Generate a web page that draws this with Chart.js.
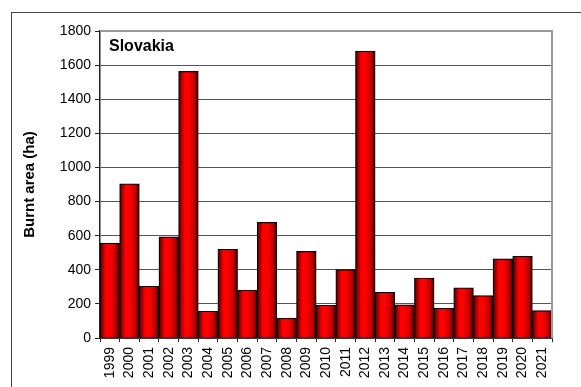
<!DOCTYPE html>
<html>
<head>
<meta charset="utf-8">
<script src="https://cdn.jsdelivr.net/npm/chart.js@4.4.0/dist/chart.umd.min.js"></script>
<style>
  html, body { margin: 0; padding: 0; background: #fff; }
  #wrap { position: relative; width: 581px; height: 387px; }
  #frame { position: absolute; left: 11px; top: 12px; right: -5px; bottom: -5px;
           border-top: 1px solid #444; border-left: 1px solid #444; }
  canvas { position: absolute; left: 0; top: 0; }
</style>
</head>
<body>
<div id="wrap">
  <div id="frame"></div>
  <canvas id="burntChart" width="581" height="387"></canvas>
</div>
<script>
  // data
  const years = ['1999', '2000', '2001', '2002', '2003', '2004', '2005', '2006',
    '2007', '2008', '2009', '2010', '2011', '2012', '2013', '2014', '2015',
    '2016', '2017', '2018', '2019', '2020', '2021'];
  const burntArea = [556, 904, 303, 593, 1563, 157, 520, 280, 678, 116, 508,
    192, 401, 1682, 268, 194, 352, 174, 294, 249, 464, 479, 161];
  const yTicks = [0, 200, 400, 600, 800, 1000, 1200, 1400, 1600, 1800];

  const FONT = '"Liberation Sans", Arial, sans-serif';

  function barGradient(context) {
    const chart = context.chart;
    if (!chart.chartArea) return '#e00000';
    const xScale = chart.scales.x;
    const cx = xScale.getPixelForValue(context.dataIndex);
    const half = xScale.width / years.length / 2;
    const g = chart.ctx.createLinearGradient(cx - half, 0, cx + half, 0);
    g.addColorStop(0, '#500000');
    g.addColorStop(0.3, '#ff0000');
    g.addColorStop(0.5, '#ff0000');
    g.addColorStop(0.8, '#c00000');
    g.addColorStop(1, '#480000');
    return g;
  }

  // plot frame + country label inside the plot
  const framePlugin = {
    id: 'framePlugin',
    afterDraw(chart) {
      const ctx = chart.ctx;
      const a = chart.chartArea;
      ctx.save();
      ctx.strokeStyle = '#999';
      ctx.lineWidth = 2;
      ctx.beginPath();
      ctx.moveTo(a.left, a.top);
      ctx.lineTo(a.right, a.top);
      ctx.lineTo(a.right, a.bottom);
      ctx.stroke();
      ctx.fillStyle = '#000';
      ctx.font = 'bold 16px ' + FONT;
      ctx.textBaseline = 'alphabetic';
      ctx.fillText('Slovakia', a.left + 9, a.top + 20);
      ctx.restore();
    }
  };

  window.addEventListener('DOMContentLoaded', () => {
    const ctx = document.getElementById('burntChart').getContext('2d');
    new Chart(ctx, {
      type: 'bar',
      data: {
        labels: years,
        datasets: [{
          label: 'Burnt area (ha)',
          data: burntArea,
          backgroundColor: barGradient,
          borderColor: '#000',
          borderWidth: 1.2,
          borderSkipped: 'bottom',
          categoryPercentage: 1,
          barPercentage: 1
        }]
      },
      options: {
        responsive: false,
        animation: false,
        devicePixelRatio: 1,
        layout: { padding: { left: 0, top: 31, right: 29, bottom: 0 } },
        plugins: {
          legend: { display: false },
          tooltip: { enabled: false }
        },
        scales: {
          x: {
            offset: true,
            grid: {
              offset: true,
              drawOnChartArea: false,
              drawTicks: true,
              tickLength: 4,
              tickColor: '#222'
            },
            border: { color: '#222', width: 1.5 },
            ticks: {
              autoSkip: false,
              minRotation: 90,
              maxRotation: 90,
              padding: 5,
              color: '#000',
              font: { family: FONT, size: 14 }
            },
            afterFit(scale) { scale.height = 49; }
          },
          y: {
            min: 0,
            max: 1800,
            afterBuildTicks(scale) {
              scale.ticks = yTicks.map(v => ({ value: v }));
            },
            grid: {
              color: '#555',
              lineWidth: 1,
              tickLength: 5,
              tickColor: '#222'
            },
            border: { color: '#222', width: 1.5 },
            ticks: {
              padding: 4,
              color: '#000',
              font: { family: FONT, size: 14 },
              callback: (value) => String(value)
            },
            title: {
              display: true,
              text: 'Burnt area (ha)',
              color: '#000',
              font: { family: FONT, size: 15, weight: 'bold' },
              padding: { top: 21, bottom: 0 }
            },
            afterFit(scale) { scale.width = 100; }
          }
        }
      },
      plugins: [framePlugin]
    });
  });
</script>
</body>
</html>
